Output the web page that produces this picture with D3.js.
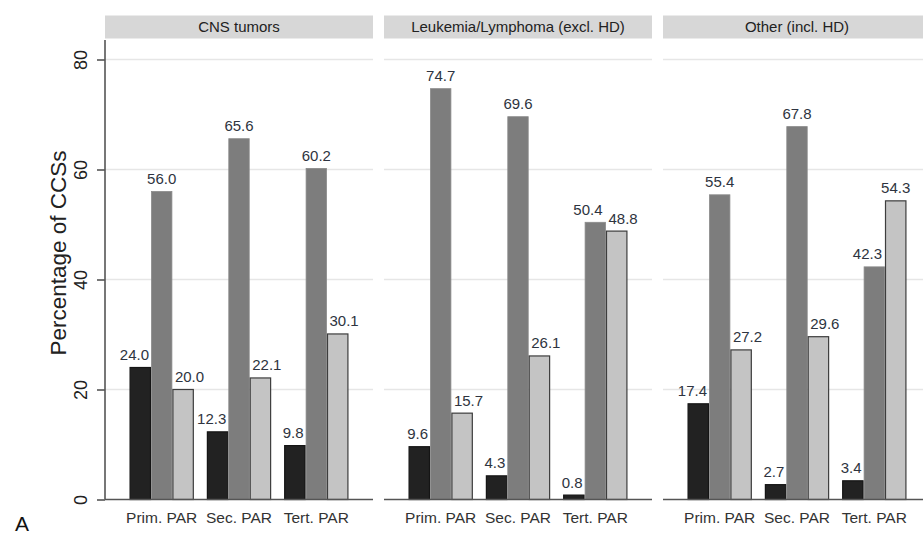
<!DOCTYPE html>
<html>
<head>
<meta charset="utf-8">
<script src="https://cdn.jsdelivr.net/npm/d3@7"></script>
<style>
  html, body { margin: 0; padding: 0; background: #fff; }
  svg { display: block; font-family: "Liberation Sans", Arial, sans-serif; }
</style>
</head>
<body>
<svg id="chart" width="923" height="534"></svg>
<script>
// Diagnosis panels, PAR categories and the three response series
const panels = ["CNS tumors", "Leukemia/Lymphoma (excl. HD)", "Other (incl. HD)"];
const groups = ["Prim. PAR", "Sec. PAR", "Tert. PAR"];
const series = ["s1", "s2", "s3"];

// Percentages per panel: rows = PAR category, columns = series
const cnsValues   = [[24.0, 56.0, 20.0], [12.3, 65.6, 22.1], [9.8, 60.2, 30.1]];
const leukValues  = [[9.6, 74.7, 15.7], [4.3, 69.6, 26.1], [0.8, 50.4, 48.8]];
const otherValues = [[17.4, 55.4, 27.2], [2.7, 67.8, 29.6], [3.4, 42.3, 54.3]];
const panelValues = [cnsValues, leukValues, otherValues];

const yTicks = [0, 20, 40, 60, 80];
const yTitle = "Percentage of CCSs";
const figLabel = "A";

const fills   = ["#222222", "#7d7d7d", "#c4c4c4"];
const strokes = ["#151515", "#8a8a8a", "#3d3d3d"];

const svg = d3.select("#chart");

const y = d3.scaleLinear().domain([0, 80]).range([499.5, 59.5]);
const px = d3.scaleBand().domain(panels).range([105, 931]).paddingInner(11 / 279);
const gx = d3.scaleBand().domain(groups).range([0, px.bandwidth()])
  .paddingInner(0.169).paddingOuter(0.318);
const bx = d3.scaleBand().domain(series).range([0, gx.bandwidth()]);

const axisTop = 40;
const labelGap = 7.5;

// Gridlines, strips, bars
panels.forEach((p, pi) => {
  const g = svg.append("g").attr("transform", `translate(${px(p)},0)`);
  const w = px.bandwidth();

  // strip header
  g.append("rect").attr("x", 0).attr("y", 15.5).attr("width", w).attr("height", 23)
    .attr("fill", "#d7d7d7");
  g.append("text").attr("x", w / 2).attr("y", 31.5).attr("text-anchor", "middle")
    .attr("font-size", 15).attr("fill", "#222").text(p);

  // horizontal gridlines
  g.selectAll("line.grid").data(yTicks.filter(t => t > 0)).join("line")
    .attr("class", "grid")
    .attr("x1", 0).attr("x2", w)
    .attr("y1", d => y(d)).attr("y2", d => y(d))
    .attr("stroke", "#e6e6e6").attr("stroke-width", 1.5);

  const vals = panelValues[pi];
  groups.forEach((grp, gi) => {
    const gg = g.append("g").attr("transform", `translate(${gx(grp)},0)`);
    const row = vals[gi];
    gg.selectAll("rect.bar").data(row).join("rect")
      .attr("class", "bar")
      .attr("x", (d, i) => bx(series[i]) + 0.5)
      .attr("y", d => y(d))
      .attr("width", bx.bandwidth() - 1)
      .attr("height", d => y(0) - y(d))
      .attr("fill", (d, i) => fills[i])
      .attr("stroke", (d, i) => strokes[i])
      .attr("stroke-width", (d, i) => i === 1 ? 0.8 : 1.2);

    // value labels, nudged sideways when they would run into a taller neighbour
    const labels = gg.selectAll("text.val").data(row).join("text")
      .attr("class", "val")
      .attr("text-anchor", "middle")
      .attr("font-size", 15)
      .attr("fill", "#2e3440")
      .attr("y", d => y(d) - labelGap)
      .text(d => d.toFixed(1));

    const bw = bx.bandwidth();
    const widths = labels.nodes().map(n => n.getComputedTextLength());
    const cx = row.map((d, i) => bx(series[i]) + bw / 2);
    const base = row.map(d => y(d) - labelGap);
    const over = i => (widths[i] - bw) / 2;
    // outer bars vs. middle bar
    if (y(row[1]) < base[0]) cx[0] -= over(0) + 2;
    if (y(row[1]) < base[2]) cx[2] += over(2) + 2.5;
    // middle label vs. outer bars and labels
    if (y(row[2]) < base[1]) cx[1] -= over(1) + 3;
    else if (y(row[0]) < base[1]) cx[1] += over(1) + 3;
    const h = 12;
    const vOverlap = (a, b) => Math.abs(base[a] - base[b]) < h;
    if (vOverlap(1, 2)) {
      const limit = cx[2] - widths[2] / 2 - 6;
      if (cx[1] + widths[1] / 2 > limit) cx[1] = limit - widths[1] / 2;
    }
    if (vOverlap(1, 0)) {
      const limit = cx[0] + widths[0] / 2 + 6;
      if (cx[1] - widths[1] / 2 < limit) cx[1] = limit + widths[1] / 2;
    }
    labels.attr("x", (d, i) => cx[i]);

    // category label
    g.append("text").attr("x", gx(grp) + gx.bandwidth() / 2).attr("y", 522.5)
      .attr("text-anchor", "middle").attr("font-size", 15.5).attr("fill", "#333")
      .text(grp);
  });

  // baseline
  g.append("line").attr("x1", 0).attr("x2", w).attr("y1", y(0)).attr("y2", y(0))
    .attr("stroke", "#555").attr("stroke-width", 1.6);
});

// Y axis on the first panel
const yAxis = d3.axisLeft(y).tickValues(yTicks).tickSize(8).tickFormat(d3.format("d"));
const ag = svg.append("g").attr("transform", `translate(${px(panels[0])},0)`).call(yAxis);
ag.select(".domain").remove();
ag.append("line").attr("x1", 0).attr("x2", 0).attr("y1", axisTop).attr("y2", y(0))
  .attr("stroke", "#555").attr("stroke-width", 1.6);
ag.selectAll(".tick line").attr("stroke", "#555").attr("stroke-width", 1.6);
ag.selectAll(".tick text")
  .attr("x", null).attr("dy", null)
  .attr("transform", "translate(-18,0) rotate(-90)")
  .attr("text-anchor", "middle")
  .attr("font-size", 18)
  .attr("font-family", "'Liberation Sans', Arial, sans-serif")
  .attr("fill", "#222");

// Y title
svg.append("text")
  .attr("transform", `translate(66,${253}) rotate(-90)`)
  .attr("text-anchor", "middle").attr("font-size", 22.5).attr("fill", "#222")
  .text(yTitle);

// Figure letter
svg.append("text").attr("x", 15).attr("y", 531).attr("font-size", 21).attr("fill", "#111")
  .text(figLabel);
</script>
</body>
</html>
